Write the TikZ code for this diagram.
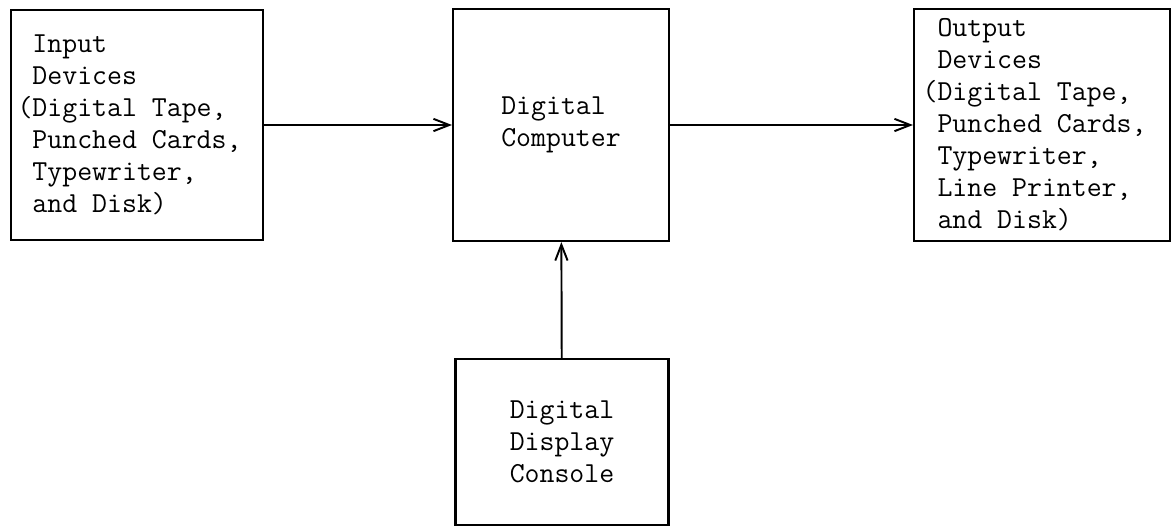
\documentclass[tikz,border=0pt]{standalone}
\usepackage{tikz}
\usetikzlibrary{arrows.meta, positioning}

\begin{document}
\begin{tikzpicture}[
    x=0.02cm, y=-0.02cm,
    every node/.style={draw, line width=1.2pt, align=left,
        font=\ttfamily\fontsize{16.5}{18.2}\selectfont},
    unit/.style={draw, inner sep=0pt},
    flow/.style={-{Straight Barb[length=9pt, width=7pt]}, line width=1.1pt},
]
\useasboundingbox (0,0) rectangle (1172,528);

\node[unit, minimum width=252*0.02cm, minimum height=230*0.02cm] (inp) at (137,125)
    {Input\\Devices\\\llap{(}Digital Tape,\\Punched Cards,\\Typewriter,\\and Disk)};
\node[unit, minimum width=216*0.02cm, minimum height=232*0.02cm] (comp) at (561,125)
    {Digital\\Computer};
\node[unit, minimum width=256*0.02cm, minimum height=232*0.02cm] (outp) at (1042,125)
    {Output\\Devices\\\llap{(}Digital Tape,\\Punched Cards,\\Typewriter,\\Line Printer,\\and Disk)};
\node[unit, minimum width=213*0.02cm, minimum height=166*0.02cm] (cons) at (562,442)
    {Digital\\Display\\Console};

\draw[flow] (inp) -- (comp);
\draw[flow] (comp) -- (outp);
\draw[flow] (cons) -- (comp);

\end{tikzpicture}
\end{document}
